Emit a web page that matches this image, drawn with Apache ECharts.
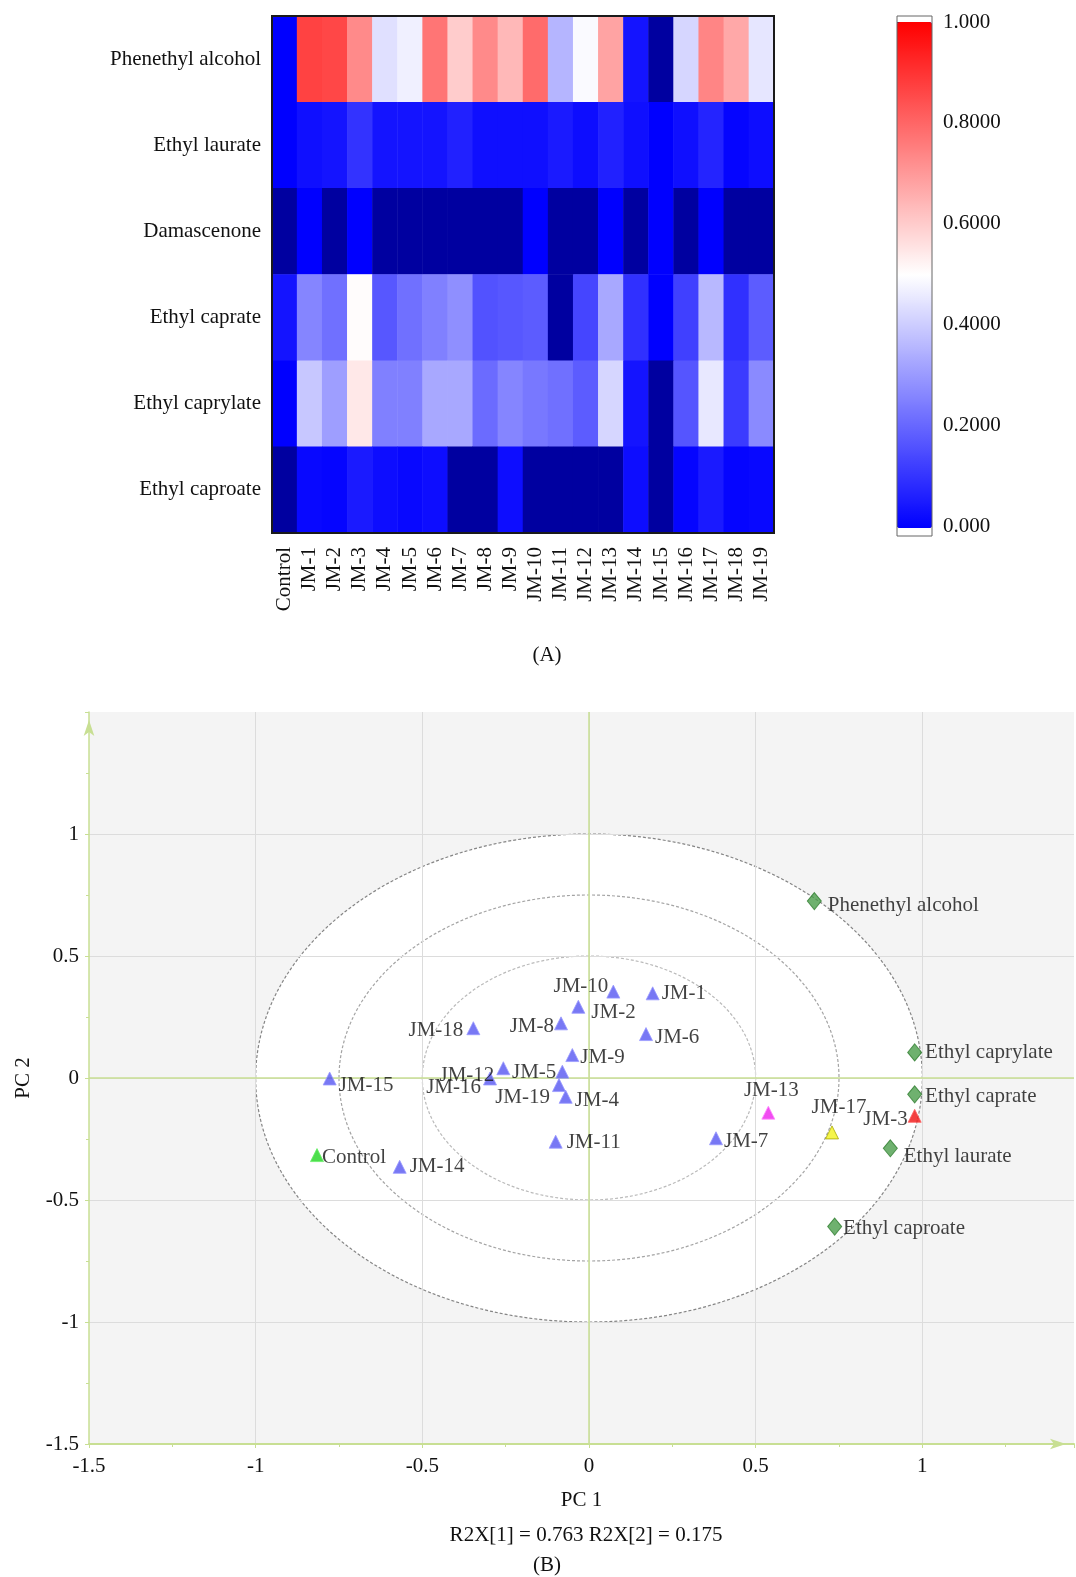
<!DOCTYPE html>
<html>
<head>
<meta charset="utf-8">
<title>Heatmap and PCA</title>
<script src="https://cdn.jsdelivr.net/npm/echarts@6.0.0/dist/echarts.min.js"></script>
<style>
  html, body { margin: 0; padding: 0; background: #fff; }
  #main { width: 1076px; height: 1577px; }
</style>
</head>
<body>
<div id="main"></div>
<script>
const FONT = '"Liberation Serif", "Times New Roman", serif'

// ---- (A) heatmap ----
const samples = ['Control', 'JM-1', 'JM-2', 'JM-3', 'JM-4', 'JM-5', 'JM-6', 'JM-7', 'JM-8', 'JM-9',
  'JM-10', 'JM-11', 'JM-12', 'JM-13', 'JM-14', 'JM-15', 'JM-16', 'JM-17', 'JM-18', 'JM-19']
const compounds = ['Phenethyl alcohol', 'Ethyl laurate', 'Damascenone', 'Ethyl caprate', 'Ethyl caprylate', 'Ethyl caproate']

// cells drawn dark navy in the figure sit below the colour scale
const LOW = -0.05
const phenethylAlcohol = [0.0, 0.87, 0.86, 0.73, 0.44, 0.47, 0.77, 0.60, 0.73, 0.64, 0.79, 0.355, 0.49, 0.68, 0.04, LOW, 0.42, 0.74, 0.67, 0.45]
const ethylLaurate = [0.0, 0.03, 0.04, 0.10, 0.04, 0.04, 0.04, 0.065, 0.03, 0.03, 0.03, 0.05, 0.025, 0.065, 0.03, 0.0, 0.03, 0.07, 0.01, 0.025]
const damascenone = [LOW, 0.0, LOW, 0.0, LOW, LOW, LOW, LOW, LOW, LOW, 0.0, LOW, LOW, 0.0, LOW, 0.0, LOW, 0.0, LOW, LOW]
const ethylCaprate = [0.04, 0.26, 0.22, 0.505, 0.17, 0.22, 0.25, 0.28, 0.16, 0.17, 0.18, LOW, 0.135, 0.33, 0.095, 0.0, 0.125, 0.36, 0.095, 0.18]
const ethylCaprylate = [0.0, 0.39, 0.31, 0.545, 0.25, 0.25, 0.33, 0.33, 0.21, 0.26, 0.235, 0.22, 0.18, 0.42, 0.04, LOW, 0.167, 0.455, 0.115, 0.27]
const ethylCaproate = [LOW, 0.015, 0.01, 0.05, 0.025, 0.015, 0.025, LOW, LOW, 0.025, LOW, LOW, LOW, LOW, 0.025, LOW, 0.01, 0.05, 0.01, 0.015]
const heatRows = [phenethylAlcohol, ethylLaurate, damascenone, ethylCaprate, ethylCaprylate, ethylCaproate]
const scaleTicks = [0, 0.2, 0.4, 0.6, 0.8, 1]

// ---- (B) PCA bi-plot ----
const sampleNames = samples
const samplePC1 = [-0.816, 0.191, -0.032, 0.977, -0.070, -0.080, 0.171, 0.381, -0.084, -0.050,
  0.073, -0.100, -0.257, 0.538, -0.568, -0.778, -0.297, 0.729, -0.347, -0.090]
const samplePC2 = [-0.316, 0.347, 0.292, -0.155, -0.077, 0.026, 0.180, -0.247, 0.224, 0.094,
  0.354, -0.261, 0.040, -0.142, -0.364, -0.002, -0.002, -0.223, 0.204, -0.029]
const variableNames = ['Phenethyl alcohol', 'Ethyl caprylate', 'Ethyl caprate', 'Ethyl laurate', 'Ethyl caproate']
const variablePC1 = [0.676, 0.977, 0.977, 0.904, 0.737]
const variablePC2 = [0.725, 0.105, -0.067, -0.288, -0.609]
const circleRadii = [1, 0.75, 0.5]

// label placement: [position, dx, dy]
const labelPlace = {
  'Control': ['right', -4, 2],
  'JM-1': ['right', 0, 0],
  'JM-2': ['right', 4, 6],
  'JM-3': ['left', 2, 4],
  'JM-4': ['right', 0, 4],
  'JM-5': ['left', 3, 1],
  'JM-6': ['right', 0, 3],
  'JM-7': ['right', -1, 3],
  'JM-8': ['left', 2, 3],
  'JM-9': ['right', -1, 2],
  'JM-10': ['left', 4, -5],
  'JM-11': ['right', 2, 1],
  'JM-12': ['left', 0, 7],
  'JM-13': ['top', 3, -3],
  'JM-14': ['right', 1, 0],
  'JM-15': ['right', 0, 7],
  'JM-16': ['left', 0, 9],
  'JM-17': ['top', 7, -5],
  'JM-18': ['left', -1, 2],
  'JM-19': ['left', 0, 12],
  'Phenethyl alcohol': ['right', 4, 4],
  'Ethyl caprylate': ['right', 1, 0],
  'Ethyl caprate': ['right', 1, 2],
  'Ethyl laurate': ['right', 4, 8],
  'Ethyl caproate': ['right', -1, 2]
}
const pointColors = {
  'Control': ['#1fd61f', '#66ee66'],
  'JM-3': ['#f01010', '#ff6666'],
  'JM-13': ['#ee1fee', '#ff88ff'],
  'JM-17': ['#f2f21e', '#a8a800']
}

const GREEN = '#c8df93'
const textStyle = { color: '#111', fontSize: 21, fontFamily: FONT }

const heatData = []
heatRows.forEach((row, r) => {
  row.forEach((v, c) => heatData.push([c, r, v]))
})

function pointLabel (name) {
  const p = labelPlace[name] || ['right', 0, 0]
  return { position: p[0], offset: [p[1], p[2]] }
}

function pointStyle (name) {
  const c = pointColors[name] || ['rgba(72, 72, 240, 0.92)', '#9a9aff']
  return { color: c[0], borderColor: c[1], borderWidth: 1 }
}

const ringStyles = [
  { fill: '#ffffff', stroke: '#858585' },
  { fill: 'none', stroke: '#a4a4a4' },
  { fill: 'none', stroke: '#bababa' }
]

const chart = echarts.init(document.getElementById('main'))

chart.setOption({
  animation: false,
  backgroundColor: '#ffffff',
  textStyle: { fontFamily: FONT },
  grid: [
    // heatmap
    { left: 272, top: 16, width: 502, height: 517, show: true, backgroundColor: 'transparent', borderColor: '#1a1a1a', borderWidth: 2, z: 3 },
    // colour bar frame
    { left: 897, top: 16, width: 35, height: 520, show: true, backgroundColor: 'transparent', borderColor: '#666', borderWidth: 1, z: 5 },
    // PCA
    { left: 89, top: 712, width: 985, height: 732, show: true, backgroundColor: '#f4f4f4', borderWidth: 0, z: -2 }
  ],
  visualMap: {
    type: 'continuous',
    seriesIndex: 0,
    // min a hair under 0 so that the LOW cells fall out of range
    min: -0.0001,
    max: 1,
    range: [0, 1],
    orient: 'vertical',
    left: 897,
    top: 22,
    itemWidth: 35,
    itemHeight: 506,
    padding: 0,
    calculable: false,
    hoverLink: false,
    text: null,
    inRange: { color: ['#0000ff', '#ffffff', '#ff0000'] },
    outOfRange: { color: '#0000a0' }
  },
  xAxis: [
    {
      gridIndex: 0,
      type: 'category',
      data: samples,
      axisLine: { lineStyle: { color: '#1a1a1a', width: 2 } },
      axisTick: { alignWithLabel: true, length: 10, lineStyle: { color: '#1a1a1a', width: 1.5 } },
      axisLabel: Object.assign({ rotate: 90, interval: 0, margin: 14 }, textStyle),
      splitLine: { show: false }
    },
    { gridIndex: 1, type: 'value', min: 0, max: 1, show: false },
    {
      gridIndex: 2,
      type: 'value',
      min: -1.5,
      max: 1.455,
      interval: 0.5,
      name: 'PC 1',
      nameLocation: 'middle',
      nameGap: 46,
      nameTextStyle: textStyle,
      axisLine: {
        onZero: false,
        lineStyle: { color: GREEN, width: 2 },
        symbol: ['none', 'arrow'],
        symbolSize: [8, 16],
        symbolOffset: [0, -8]
      },
      axisTick: { length: 4, lineStyle: { color: GREEN } },
      minorTick: { show: true, splitNumber: 2, length: 3, lineStyle: { color: GREEN } },
      axisLabel: Object.assign({ margin: 12, showMaxLabel: false }, textStyle),
      splitLine: { show: true, showMinLine: false, showMaxLine: false, lineStyle: { color: '#dcdcdc' } }
    }
  ],
  yAxis: [
    {
      gridIndex: 0,
      type: 'category',
      data: compounds,
      inverse: true,
      axisLine: { lineStyle: { color: '#1a1a1a', width: 2 } },
      axisTick: { alignWithLabel: true, length: 10, lineStyle: { color: '#1a1a1a', width: 1.5 } },
      axisLabel: Object.assign({ margin: 11 }, textStyle),
      splitLine: { show: false }
    },
    {
      gridIndex: 1,
      type: 'value',
      position: 'right',
      min: -0.019841,
      max: 1.011905,
      axisLine: { show: false },
      axisTick: { show: true, customValues: scaleTicks, length: 8, lineStyle: { color: '#444' } },
      axisLabel: Object.assign({
        customValues: scaleTicks,
        margin: 11,
        formatter: v => (v === 0 || v === 1) ? v.toFixed(3) : v.toFixed(4)
      }, textStyle),
      splitLine: { show: false }
    },
    {
      gridIndex: 2,
      type: 'value',
      min: -1.5,
      max: 1.5,
      interval: 0.5,
      name: 'PC 2',
      nameLocation: 'middle',
      nameGap: 55,
      nameTextStyle: textStyle,
      axisLine: {
        onZero: false,
        lineStyle: { color: GREEN, width: 1.5 },
        symbol: ['none', 'arrow'],
        symbolSize: [8, 16],
        symbolOffset: [0, -8]
      },
      axisTick: { length: 4, lineStyle: { color: GREEN } },
      minorTick: { show: true, splitNumber: 2, length: 3, lineStyle: { color: GREEN } },
      axisLabel: Object.assign({ margin: 10, showMaxLabel: false }, textStyle),
      splitLine: { show: true, showMinLine: false, showMaxLine: false, lineStyle: { color: '#dcdcdc' } }
    }
  ],
  series: [
    {
      type: 'heatmap',
      xAxisIndex: 0,
      yAxisIndex: 0,
      data: heatData,
      itemStyle: { borderWidth: 0 },
      emphasis: { disabled: true }
    },
    {
      // the 0.5 / 0.75 / 1 reference circles
      type: 'custom',
      coordinateSystem: 'cartesian2d',
      xAxisIndex: 2,
      yAxisIndex: 2,
      z: -1,
      silent: true,
      data: circleRadii.map(r => [r, 0]),
      renderItem (params, api) {
        const r = api.value(0)
        const c = api.coord([0, 0])
        const s = api.size([r, r])
        const st = ringStyles[params.dataIndex]
        return {
          type: 'ellipse',
          shape: { cx: c[0], cy: c[1], rx: s[0], ry: s[1] },
          style: { fill: st.fill, stroke: st.stroke, lineWidth: 1.2, lineDash: [3, 2] }
        }
      }
    },
    {
      type: 'scatter',
      xAxisIndex: 2,
      yAxisIndex: 2,
      symbol: 'triangle',
      symbolSize: 13,
      label: Object.assign({ show: true, formatter: '{b}', distance: 2 }, textStyle),
      emphasis: { disabled: true },
      data: sampleNames.map((name, i) => ({
        name,
        value: [samplePC1[i], samplePC2[i]],
        itemStyle: pointStyle(name),
        label: pointLabel(name)
      }))
    },
    {
      type: 'scatter',
      xAxisIndex: 2,
      yAxisIndex: 2,
      symbol: 'diamond',
      symbolSize: [14, 17],
      itemStyle: { color: '#4b9e4b', borderColor: '#2f7d2f', borderWidth: 1 },
      label: Object.assign({ show: true, formatter: '{b}', distance: 2 }, textStyle),
      emphasis: { disabled: true },
      data: variableNames.map((name, i) => ({
        name,
        value: [variablePC1[i], variablePC2[i]],
        label: pointLabel(name)
      })),
      markLine: {
        silent: true,
        z: 1,
        symbol: 'none',
        label: { show: false },
        emphasis: { disabled: true },
        lineStyle: { color: GREEN, type: 'solid', width: 1.5 },
        data: [{ xAxis: 0 }, { yAxis: 0 }]
      }
    }
  ],
  graphic: [
    { type: 'text', x: 547, y: 655, style: { text: '(A)', align: 'center', verticalAlign: 'middle', font: '21px ' + FONT, fill: '#111' } },
    { type: 'text', x: 586, y: 1535, style: { text: 'R2X[1] = 0.763 R2X[2] = 0.175', align: 'center', verticalAlign: 'middle', font: '21px ' + FONT, fill: '#111' } },
    { type: 'text', x: 547, y: 1565, style: { text: '(B)', align: 'center', verticalAlign: 'middle', font: '21px ' + FONT, fill: '#111' } }
  ]
})
</script>
</body>
</html>
